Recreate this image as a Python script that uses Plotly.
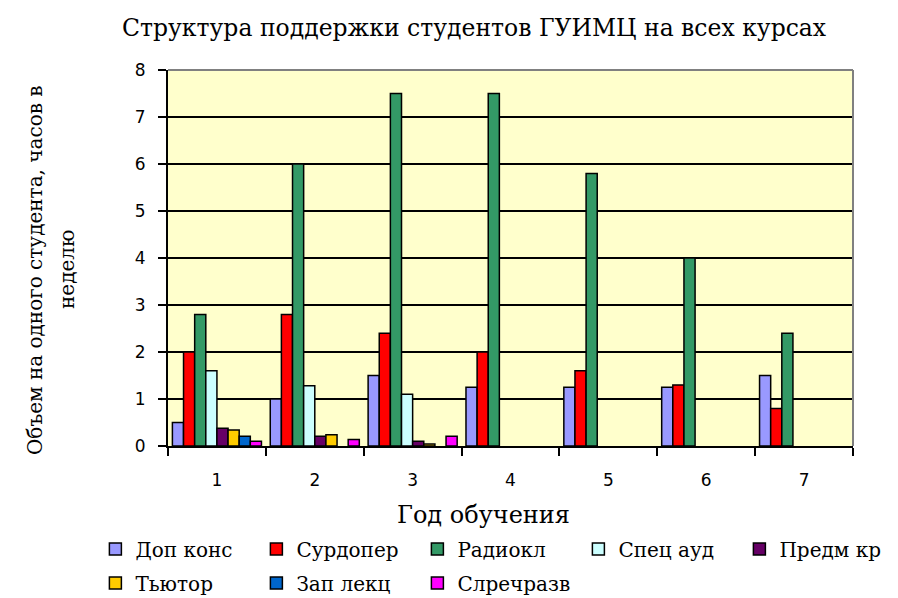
import plotly.graph_objects as go

years = ["1", "2", "3", "4", "5", "6", "7"]
series_names = ["Доп конс", "Сурдопер", "Радиокл", "Спец ауд", "Предм кр", "Тьютор", "Зап лекц", "Слречразв"]
dop_kons = [0.5, 1.0, 1.5, 1.25, 1.25, 1.25, 1.5]
surdoper = [2.0, 2.8, 2.4, 2.0, 1.6, 1.3, 0.8]
radiokl = [2.8, 6.0, 7.5, 7.5, 5.8, 4.0, 2.4]
spets_aud = [1.6, 1.28, 1.1, None, None, None, None]
predm_kr = [0.38, 0.21, 0.1, None, None, None, None]
tyutor = [0.34, 0.24, 0.04, None, None, None, None]
zap_lekts = [0.21, None, None, None, None, None, None]
slrechrazv = [0.1, 0.14, 0.21, None, None, None, None]
colors = ["#9999FF", "#FF0000", "#339966", "#CCFFFF", "#660066", "#FFCC00", "#0066CC", "#FF00FF"]

all_values = [dop_kons, surdoper, radiokl, spets_aud, predm_kr, tyutor, zap_lekts, slrechrazv]
legend_rows = ["legend", "legend", "legend", "legend", "legend", "legend2", "legend2", "legend2"]

SERIF = "DejaVu Serif, Liberation Serif, serif"
SANS = "DejaVu Sans, Liberation Sans, sans-serif"

fig = go.Figure()
for name, vals, c, lg in zip(series_names, all_values, colors, legend_rows):
    fig.add_trace(go.Bar(x=years, y=vals, name=name, legend=lg,
                         marker=dict(color=c, line=dict(color="black", width=1.5))))

legend_common = dict(orientation="h", xanchor="left", yanchor="middle",
                     font=dict(family=SERIF, size=20, color="black"),
                     entrywidth=116, entrywidthmode="pixels", itemwidth=30,
                     bgcolor="rgba(0,0,0,0)", borderwidth=0)

fig.update_layout(
    width=898, height=598,
    margin=dict(l=168, r=45, t=70, b=152, autoexpand=False),
    paper_bgcolor="white", plot_bgcolor="#FFFFCC",
    barmode="group", bargap=0.09, bargroupgap=0,
    showlegend=True,
    legend=dict(x=-0.106, y=(446 - 549) / 376, **legend_common),
    legend2=dict(x=-0.106, y=(446 - 583) / 376, **legend_common),
    xaxis=dict(type="category", tickson="boundaries", ticks="outside", ticklen=8,
               tickwidth=1.5, tickcolor="black", showline=True, linecolor="black",
               linewidth=2, showgrid=False, mirror=False, ticklabelstandoff=18,
               tickfont=dict(family=SANS, size=17, color="black")),
    yaxis=dict(range=[0, 8], dtick=1, ticks="outside", ticklen=8, tickwidth=1.5,
               tickcolor="black", showline=True, linecolor="black", linewidth=2,
               showgrid=True, gridcolor="black", gridwidth=1.5, zeroline=False,
               ticklabelstandoff=9,
               tickfont=dict(family=SANS, size=17, color="black")),
    annotations=[
        dict(text="Структура поддержки студентов ГУИМЦ на всех курсах", xref="paper", yref="paper",
             x=0.447, y=1.0, yshift=42, xanchor="center", yanchor="middle", showarrow=False,
             font=dict(family=SERIF, size=23.5, color="black")),
        dict(text="Объем на одного студента, часов в", xref="paper", yref="paper",
             x=0, xshift=-133, y=0.468, xanchor="center", yanchor="middle", showarrow=False,
             textangle=-90, font=dict(family=SERIF, size=20, color="black")),
        dict(text="неделю", xref="paper", yref="paper",
             x=0, xshift=-101, y=0.468, xanchor="center", yanchor="middle", showarrow=False,
             textangle=-90, font=dict(family=SERIF, size=20, color="black")),
        dict(text="Год обучения", xref="paper", yref="paper",
             x=0.4606, y=0, yshift=-69, xanchor="center", yanchor="middle", showarrow=False,
             font=dict(family=SERIF, size=24, color="black")),
    ],
    shapes=[
        dict(type="line", xref="paper", yref="paper", x0=0, x1=1, y0=1, y1=1,
             line=dict(color="#808080", width=2)),
        dict(type="line", xref="paper", yref="paper", x0=1, x1=1, y0=0, y1=1,
             line=dict(color="#808080", width=2)),
    ],
)

fig.write_html("out.html", config={"displayModeBar": False},
               post_script="document.body.style.margin='0';document.body.style.overflow='hidden';")
